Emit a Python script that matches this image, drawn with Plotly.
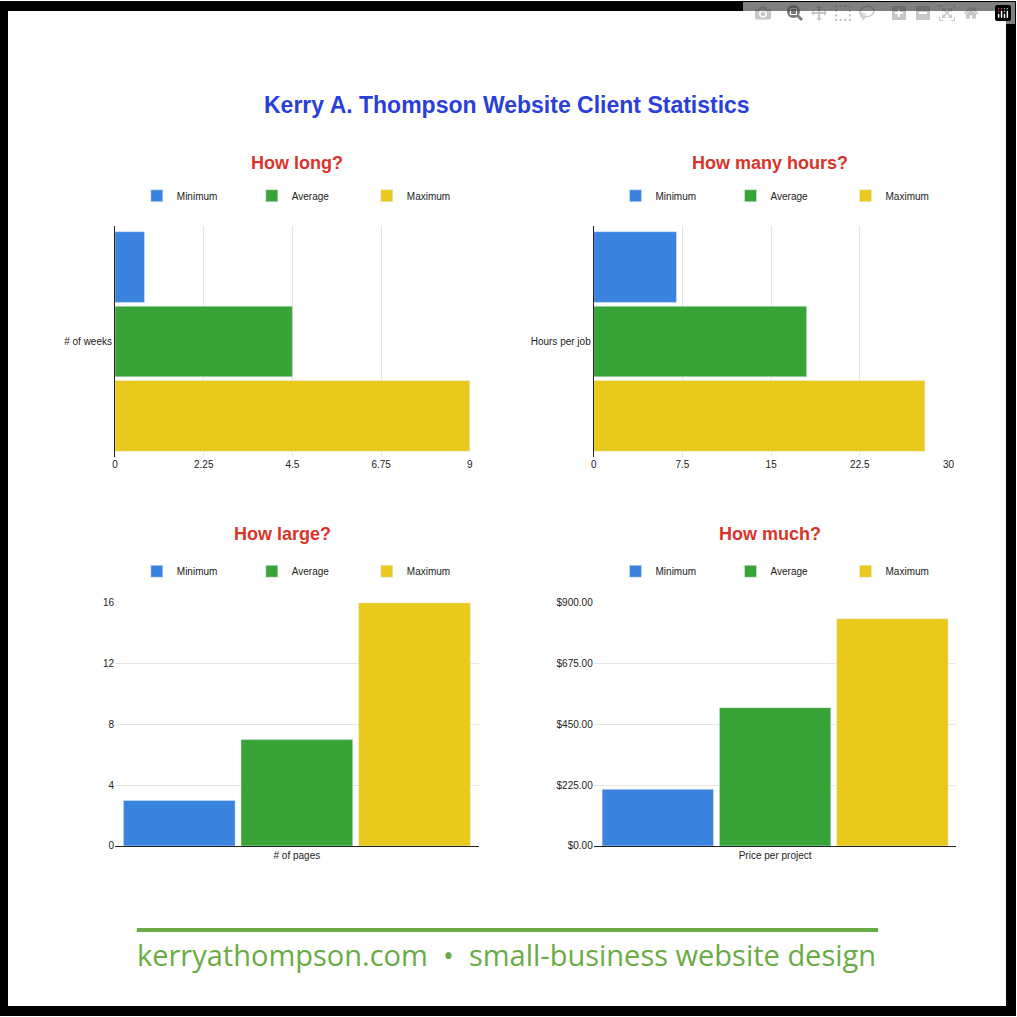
import plotly.graph_objects as go

series = ["Minimum", "Average", "Maximum"]
colors = ["#3a84e0", "#38a337", "#e9c91c"]

weeks = [0.75, 4.5, 9]
hours = [7, 18, 28]
pages = [3, 7, 16]
price = [210, 512, 841]

W = 1017
def fx(px): return px / W
def fy(px): return 1 - px / W

fig = go.Figure()

panels = [
    # values, category, axis suffix, horizontal, xdom px, ydom px, ticks, fmt
    (weeks, "# of weeks", "", True, (113, 471), (223, 456), [0, 2.25, 4.5, 6.75, 9], None),
    (hours, "Hours per job", "2", True, (596, 954), (223, 456), [0, 7.5, 15, 22.5, 30], None),
    (pages, "# of pages", "3", False, (113, 480), (604, 850), [0, 4, 8, 12, 16], None),
    (price, "Price per project", "4", False, (596, 962), (604, 850), [0, 225, 450, 675, 900], "$,.2f"),
]

for i, (vals, cat, s, horiz, xd, yd, ticks, fmt) in enumerate(panels):
    leg = "legend" if i == 0 else f"legend{i+1}"
    for name, v, c in zip(series, vals, colors):
        if horiz:
            fig.add_trace(go.Bar(y=[cat], x=[v], name=name, orientation="h", marker_color=c,
                                 xaxis="x" + s, yaxis="y" + s, legend=leg))
        else:
            fig.add_trace(go.Bar(x=[cat], y=[v], name=name, marker_color=c,
                                 xaxis="x" + s, yaxis="y" + s, legend=leg))
    valax = dict(range=[ticks[0], ticks[-1]], tickvals=ticks, showgrid=True, gridcolor="#e6e6e6",
                 zeroline=False, tickfont=dict(size=10, color="#222"), ticks="")
    if fmt:
        valax["tickformat"] = fmt
    catax = dict(showline=True, linecolor="#222", linewidth=1, tickfont=dict(size=10, color="#222"), ticks="")
    if horiz:
        fig.layout["xaxis" + s] = dict(domain=[fx(xd[0]), fx(xd[1])], anchor="y" + s, **valax)
        fig.layout["yaxis" + s] = dict(domain=[fy(yd[1]), fy(yd[0])], anchor="x" + s,
                                       autorange="reversed", **catax)
    else:
        fig.layout["yaxis" + s] = dict(domain=[fy(yd[1]), fy(yd[0])], anchor="x" + s, **valax)
        fig.layout["xaxis" + s] = dict(domain=[fx(xd[0]), fx(xd[1])], anchor="y" + s, **catax)
    ly = 192 if i < 2 else 572
    lx = 135 if i % 2 == 0 else 618
    fig.layout[leg] = dict(orientation="h", x=fx(lx), y=fy(ly), yanchor="middle", xanchor="left",
                           entrywidth=70, entrywidthmode="pixels", font=dict(size=10, color="#222"),
                           itemwidth=30, bgcolor="rgba(0,0,0,0)")

ann = [
    dict(text="<b>Kerry A. Thompson Website Client Statistics</b>", x=0.5, y=fy(100),
         font=dict(size=23, color="#2a3fd9")),
    dict(text="<b>How long?</b>", x=fx(297), y=fy(159), font=dict(size=18, color="#d9342b")),
    dict(text="<b>How many hours?</b>", x=fx(774), y=fy(159), font=dict(size=18, color="#d9342b")),
    dict(text="<b>How large?</b>", x=fx(282), y=fy(534), font=dict(size=18, color="#d9342b")),
    dict(text="<b>How much?</b>", x=fx(774), y=fy(534), font=dict(size=18, color="#d9342b")),
    dict(text="kerryathompson.com  •  small-business website design", x=fx(508), y=fy(960),
         font=dict(size=29, color="#6aab45", family="Open Sans")),
]
for a in ann:
    a.update(xref="paper", yref="paper", showarrow=False, xanchor="center", yanchor="middle")

fig.update_layout(
    width=W, height=W, margin=dict(l=0, r=0, t=0, b=0),
    paper_bgcolor="white", plot_bgcolor="white",
    font=dict(family="Liberation Sans, Arial", color="#222"),
    barmode="group", bargap=0.03, bargroupgap=0.05,
    annotations=ann,
    shapes=[
        dict(type="rect", xref="paper", yref="paper", x0=0, x1=1, y0=0, y1=1,
             line=dict(color="black", width=10)),
        dict(type="line", xref="paper", yref="paper", x0=fx(135), x1=fx(883), y0=fy(935), y1=fy(935),
             line=dict(color="#6aab45", width=4)),
    ],
)

fig.write_html("out.html",
               post_script="document.body.style.margin='0';document.body.style.overflow='hidden';")
